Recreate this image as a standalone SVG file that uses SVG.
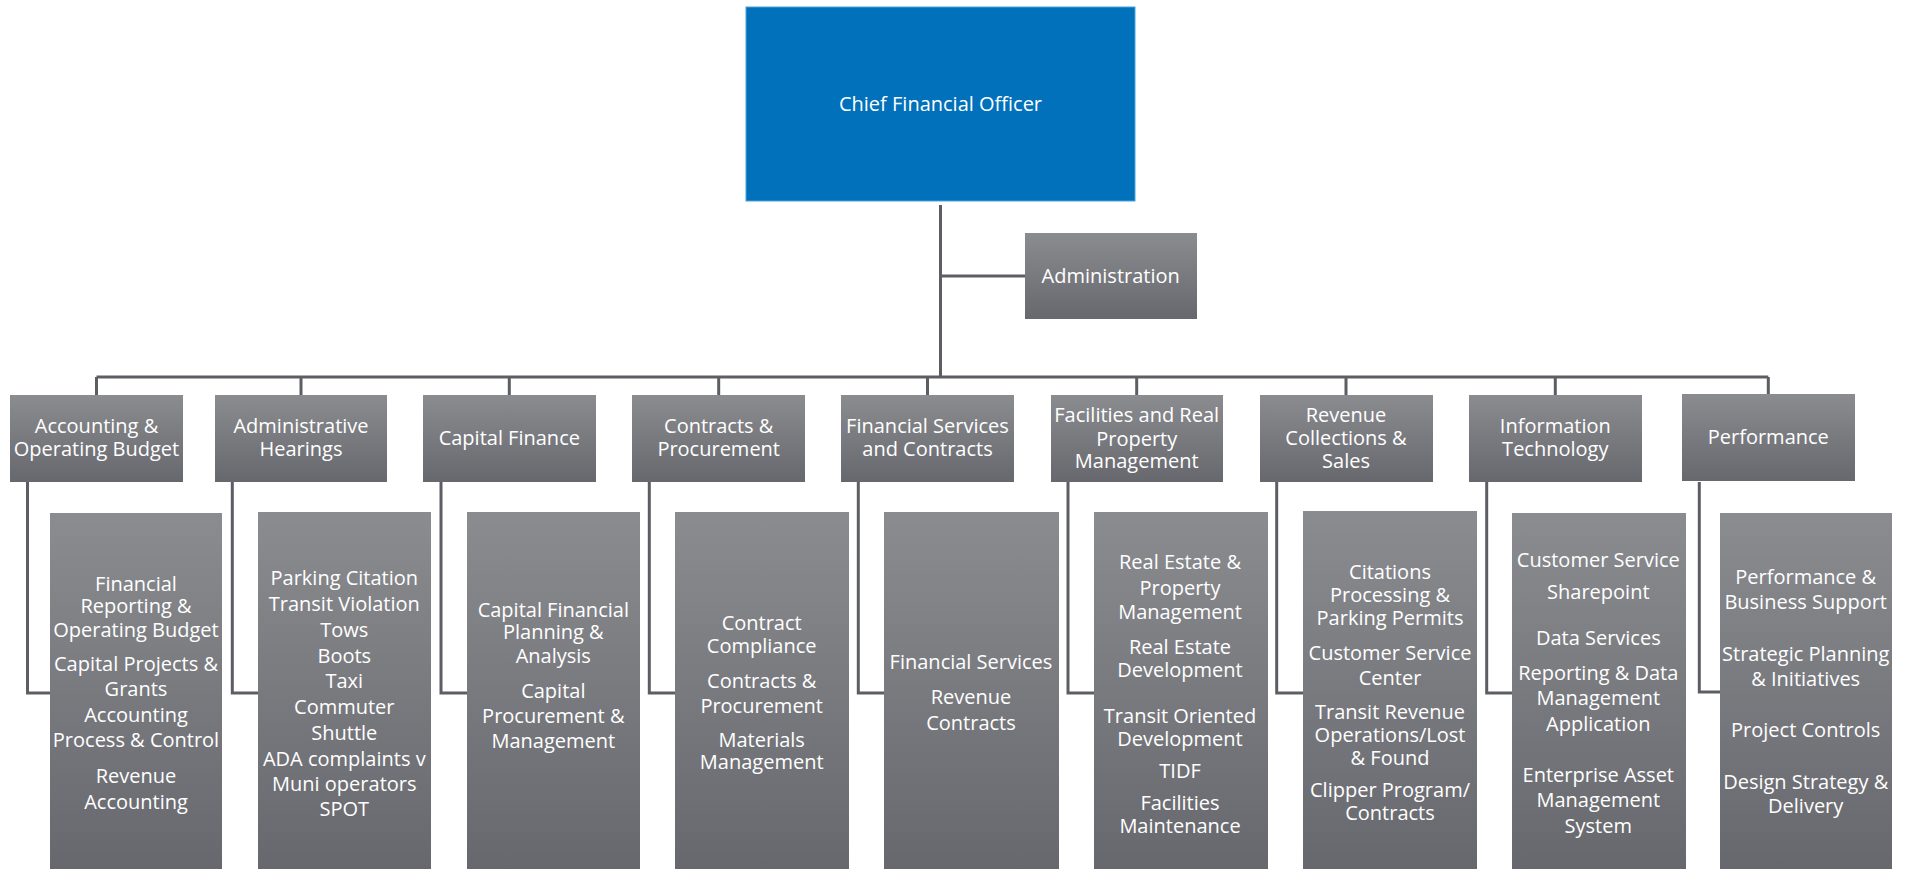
<svg xmlns="http://www.w3.org/2000/svg" width="1908" height="869" viewBox="0 0 1908 869">
<defs>
<linearGradient id="g" x1="0" y1="0" x2="0" y2="1">
<stop offset="0" stop-color="#8b8c90"/>
<stop offset="1" stop-color="#67686d"/>
</linearGradient>
<style>
.box{fill:url(#g);}
.cfo{fill:#0071ba;stroke:#4aa3dc;stroke-width:1;}
.t{font-family:"Open Sans","Noto Sans",sans-serif;font-size:20px;fill:#ffffff;text-anchor:middle;}
.c{fill:none;stroke:#5d5e63;stroke-width:3;}
</style>
</defs>
<rect width="1908" height="869" fill="#ffffff"/>
<g id="connectors">
<path class="c" d="M940.5 205 V377 M940.5 276 H1025 M96.5 377 H1768.3"/>
<path class="c" d="M96.5 377 V395 M301 377 V395 M509.3 377 V395 M718.7 377 V395 M927.5 377 V395 M1136.7 377 V395 M1346 377 V395 M1555.3 377 V395 M1768.3 377 V395"/>
<path class="c" d="M27.5 482 V693 H50 M232.3 482 V693 H258 M441 482 V693 H467 M649.3 482 V693 H675 M858.3 482 V693 H884 M1068 482 V693 H1094 M1276.7 482 V693 H1303 M1486.7 482 V693 H1512 M1699.3 482 V692 H1720"/>
</g>
<g id="cfo">
<rect class="cfo" x="746" y="7" width="389" height="194"/>
<text class="t" x="940.5" y="110.7">Chief Financial Officer</text>
</g>
<g id="administration">
<rect class="box" x="1025" y="233" width="172" height="86"/>
<text class="t" x="1110.7" y="283.3">Administration</text>
</g>
<g id="h1"><rect class="box" x="10" y="395" width="173" height="87"/>
<text class="t" x="96.5" y="433.3">Accounting &amp;</text><text class="t" x="96.5" y="456">Operating Budget</text></g>
<g id="h2"><rect class="box" x="215" y="395" width="172" height="87"/>
<text class="t" x="301" y="433.3">Administrative</text><text class="t" x="301" y="456">Hearings</text></g>
<g id="h3"><rect class="box" x="423" y="395" width="173" height="87"/>
<text class="t" x="509.3" y="445">Capital Finance</text></g>
<g id="h4"><rect class="box" x="632" y="395" width="173" height="87"/>
<text class="t" x="718.7" y="432.7">Contracts &amp;</text><text class="t" x="718.7" y="456">Procurement</text></g>
<g id="h5"><rect class="box" x="841" y="395" width="173" height="87"/>
<text class="t" x="927.5" y="432.7">Financial Services</text><text class="t" x="927.5" y="456">and Contracts</text></g>
<g id="h6"><rect class="box" x="1051" y="395" width="172" height="87"/>
<text class="t" x="1136.7" y="422.3">Facilities and Real</text><text class="t" x="1136.7" y="445.7">Property</text><text class="t" x="1136.7" y="468.3">Management</text></g>
<g id="h7"><rect class="box" x="1260" y="395" width="173" height="87"/>
<text class="t" x="1346" y="422.3">Revenue</text><text class="t" x="1346" y="445">Collections &amp;</text><text class="t" x="1346" y="467.7">Sales</text></g>
<g id="h8"><rect class="box" x="1469" y="395" width="173" height="87"/>
<text class="t" x="1555.3" y="432.7">Information</text><text class="t" x="1555.3" y="456">Technology</text></g>
<g id="h9"><rect class="box" x="1682" y="394" width="173" height="87"/>
<text class="t" x="1768.3" y="444">Performance</text></g>
<g id="s1"><rect class="box" x="50" y="513" width="172" height="356"/>
<text class="t" x="136" y="590.7">Financial</text><text class="t" x="136" y="613.3">Reporting &amp;</text><text class="t" x="136" y="636.7">Operating Budget</text>
<text class="t" x="136" y="671">Capital Projects &amp;</text><text class="t" x="136" y="696">Grants</text>
<text class="t" x="136" y="721.7">Accounting</text><text class="t" x="136" y="746.7">Process &amp; Control</text>
<text class="t" x="136" y="783.3">Revenue</text><text class="t" x="136" y="809">Accounting</text></g>
<g id="s2"><rect class="box" x="258" y="512" width="173" height="357"/>
<text class="t" x="344.3" y="585">Parking Citation</text><text class="t" x="344.3" y="611">Transit Violation</text><text class="t" x="344.3" y="636.7">Tows</text><text class="t" x="344.3" y="662.7">Boots</text><text class="t" x="344.3" y="687.7">Taxi</text><text class="t" x="344.3" y="714">Commuter</text><text class="t" x="344.3" y="740">Shuttle</text><text class="t" x="344.3" y="765.7">ADA complaints v</text><text class="t" x="344.3" y="790.7">Muni operators</text><text class="t" x="344.3" y="816">SPOT</text></g>
<g id="s3"><rect class="box" x="467" y="512" width="173" height="357"/>
<text class="t" x="553.3" y="616.7">Capital Financial</text><text class="t" x="553.3" y="639.3">Planning &amp;</text><text class="t" x="553.3" y="662.7">Analysis</text>
<text class="t" x="553.3" y="698.3">Capital</text><text class="t" x="553.3" y="723.3">Procurement &amp;</text><text class="t" x="553.3" y="748.3">Management</text></g>
<g id="s4"><rect class="box" x="675" y="512" width="174" height="357"/>
<text class="t" x="761.7" y="630">Contract</text><text class="t" x="761.7" y="653.3">Compliance</text>
<text class="t" x="761.7" y="688.3">Contracts &amp;</text><text class="t" x="761.7" y="712.7">Procurement</text>
<text class="t" x="761.7" y="746.7">Materials</text><text class="t" x="761.7" y="769.3">Management</text></g>
<g id="s5"><rect class="box" x="884" y="512" width="175" height="357"/>
<text class="t" x="971" y="669.3">Financial Services</text>
<text class="t" x="971" y="704">Revenue</text><text class="t" x="971" y="730">Contracts</text></g>
<g id="s6"><rect class="box" x="1094" y="512" width="174" height="357"/>
<text class="t" x="1180" y="569">Real Estate &amp;</text><text class="t" x="1180" y="595">Property</text><text class="t" x="1180" y="619.3">Management</text>
<text class="t" x="1180" y="654">Real Estate</text><text class="t" x="1180" y="676.7">Development</text>
<text class="t" x="1180" y="722.7">Transit Oriented</text><text class="t" x="1180" y="745.7">Development</text>
<text class="t" x="1180" y="777.7">TIDF</text>
<text class="t" x="1180" y="810">Facilities</text><text class="t" x="1180" y="832.7">Maintenance</text></g>
<g id="s7"><rect class="box" x="1303" y="511" width="174" height="358"/>
<text class="t" x="1390" y="579.3">Citations</text><text class="t" x="1390" y="601.7">Processing &amp;</text><text class="t" x="1390" y="625">Parking Permits</text>
<text class="t" x="1390" y="660">Customer Service</text><text class="t" x="1390" y="685">Center</text>
<text class="t" x="1390" y="719.3">Transit Revenue</text><text class="t" x="1390" y="742.3">Operations/Lost</text><text class="t" x="1390" y="765">&amp; Found</text>
<text class="t" x="1390" y="797.3">Clipper Program/</text><text class="t" x="1390" y="820">Contracts</text></g>
<g id="s8"><rect class="box" x="1512" y="513" width="174" height="356"/>
<text class="t" x="1598.3" y="566.7">Customer Service</text><text class="t" x="1598.3" y="599.3">Sharepoint</text>
<text class="t" x="1598.3" y="645">Data Services</text>
<text class="t" x="1598.3" y="680">Reporting &amp; Data</text><text class="t" x="1598.3" y="705">Management</text><text class="t" x="1598.3" y="731">Application</text>
<text class="t" x="1598.3" y="781.7">Enterprise Asset</text><text class="t" x="1598.3" y="807.3">Management</text><text class="t" x="1598.3" y="832.7">System</text></g>
<g id="s9"><rect class="box" x="1720" y="513" width="172" height="356"/>
<text class="t" x="1805.7" y="584">Performance &amp;</text><text class="t" x="1805.7" y="609.3">Business Support</text>
<text class="t" x="1805.7" y="660.7">Strategic Planning</text><text class="t" x="1805.7" y="686">&amp; Initiatives</text>
<text class="t" x="1805.7" y="737.3">Project Controls</text>
<text class="t" x="1805.7" y="789.3">Design Strategy &amp;</text><text class="t" x="1805.7" y="813.3">Delivery</text></g>
</svg>
